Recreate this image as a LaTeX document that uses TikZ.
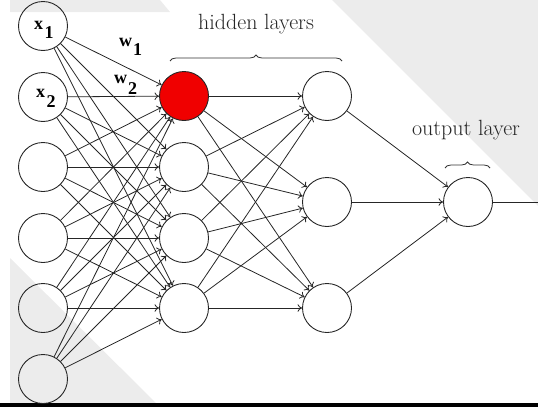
\documentclass[tikz,border=0pt]{standalone}
\usepackage{fontspec}
\newfontfamily\lblfont{Liberation Serif}
\usepackage{tikz}
\usetikzlibrary{arrows.meta,decorations.pathreplacing}
\definecolor{bggray}{RGB}{236,236,236}
\definecolor{nodered}{RGB}{240,0,0}

\begin{document}
\begin{tikzpicture}
	[x=1pt,y=-1pt,
	 n/.style={circle,minimum size=49pt,inner sep=0pt,line width=0.9pt,draw=black!85},
	 conn/.style={->,draw=black!85,line width=0.8pt},
	 lbl/.style={font=\lblfont\bfseries\fontsize{18}{18}\selectfont,inner sep=0pt},
	 ttl/.style={font=\fontsize{22}{26}\selectfont,text=black!85,inner sep=0pt},
	 br/.style={decorate,decoration={brace,amplitude=6pt},draw=black!80,line width=0.8pt},
	 >={To[length=4.5pt,width=7.5pt]}]

	\useasboundingbox (0,0) rectangle (538,407);

	% background
	\fill[bggray] (10,0) -- (160,0) -- (170,12) -- (10,12) -- cycle;
	\fill[bggray] (332,0) -- (538,0) -- (538,206) -- cycle;
	\fill[bggray] (10,258) -- (156,403) -- (10,403) -- cycle;
	\fill[black] (0,403) rectangle (538,407);

	% input layer
	\node[n] (i1) at (43,26) {};
	\node[n] (i2) at (43,97) {};
	\node[n] (i3) at (43,167) {};
	\node[n] (i4) at (43,238) {};
	\node[n] (i5) at (43,308) {};
	\node[n] (i6) at (43,379) {};

	% hidden layers
	\node[n,fill=nodered] (h1) at (184,96) {};
	\node[n] (h2) at (184,167) {};
	\node[n] (h3) at (184,238) {};
	\node[n] (h4) at (184,308) {};

	\node[n] (g1) at (327,96) {};
	\node[n] (g2) at (327,202) {};
	\node[n] (g3) at (327,308) {};

	% output layer
	\node[n] (o) at (468,202) {};
	\coordinate (out) at (538,202);

	\foreach \a in {1,...,6}
		\foreach \b in {1,...,4}
			\draw[conn] (i\a) -- (h\b);
	\foreach \a in {1,...,4}
		\foreach \b in {1,2,3}
			\draw[conn] (h\a) -- (g\b);
	\foreach \a in {1,2,3}
		\draw[conn] (g\a) -- (o);
	\draw[conn,-] (o) -- (out);

	% labels
	\node[lbl,anchor=base west] (x1) at (34,29) {x\kern1.5pt\raisebox{-9pt}{1}};
	\node[lbl,anchor=base west] (x2) at (36,97) {x\kern1.5pt\raisebox{-10pt}{2}};
	\node[lbl,anchor=base west] (w1) at (119,46) {w\kern1pt\raisebox{-9pt}{1}};
	\node[lbl,anchor=base west] (w2) at (114,83) {w\kern1pt\raisebox{-11pt}{2}};

	\node[ttl,anchor=base] (hl) at (256,29) {hidden layers};
	\node[ttl,anchor=base] (ol) at (466,135) {output layer};

	\coordinate (hbl) at (170,61);
	\coordinate (hbr) at (342,61);
	\coordinate (obl) at (445,168);
	\coordinate (obr) at (490,168);
	\draw[br] (hbl) -- (hbr);
	\draw[br] (obl) -- (obr);

\end{tikzpicture}
\end{document}
